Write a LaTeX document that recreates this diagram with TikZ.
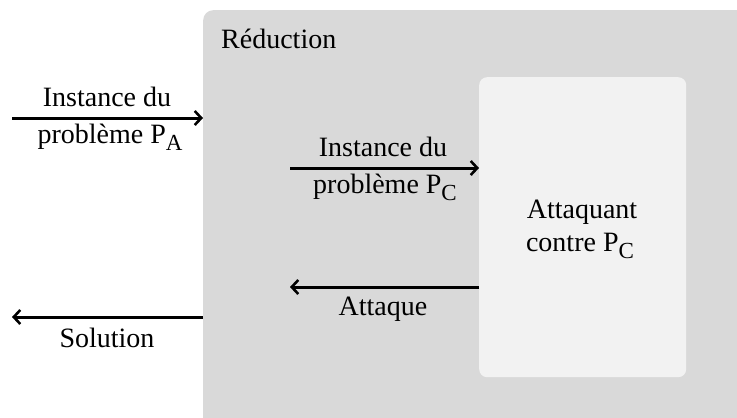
\documentclass[tikz,border=0pt]{standalone}
\usepackage{fontspec}
\setmainfont{Liberation Serif}
\usetikzlibrary{arrows.meta,calc}
\definecolor{outergray}{HTML}{D9D9D9}
\definecolor{innergray}{HTML}{F2F2F2}
\newcommand{\lowsub}[1]{\raisebox{-0.25em}{\fontsize{23}{25}\selectfont #1}}
\tikzset{
  flow/.style={line width=3pt,-{Straight Barb[length=6.5pt,width=14pt,line width=2.6pt]}},
  lbl/.style={font=\fontsize{28}{32}\selectfont,anchor=base,inner sep=0pt},
}
\begin{document}
\begin{tikzpicture}[x=1pt,y=-1pt]
  \useasboundingbox (0,0) rectangle (737,418);
  \begin{scope}
    \clip (0,0) rectangle (737,418);
    % reduction frame (runs past the right and bottom edges)
    \node (red) [fill=outergray,rounded corners=10pt,minimum width=570pt,minimum height=440pt,inner sep=0pt,anchor=north west] at (203,10) {};
  \end{scope}
  \node (redlbl) [lbl,anchor=base west] at (221,48) {Réduction};

  % attacker box
  \node (att) [fill=innergray,rounded corners=8pt,minimum width=207pt,minimum height=300pt,inner sep=0pt,anchor=north west] at (479,77) {};
  \node (att1) [lbl] at (582,218) {Attaquant};
  \node (att2) [lbl] at (580,251) {contre P\lowsub{C}};

  % outer input / output
  \coordinate (inA) at (12,118);
  \coordinate (outS) at (12,317);
  \draw[flow] (inA) -- (inA -| red.west);
  \draw[flow] (outS -| red.west) -- (outS);
  \node (ia1) [lbl] at (107,106) {Instance du};
  \node (ia2) [lbl] at (110,143) {problème P\lowsub{A}};
  \node (sol) [lbl] at (107,347) {Solution};

  % inner exchange with the attacker
  \coordinate (inC) at (290,168);
  \coordinate (outC) at (290,287);
  \draw[flow] (inC) -- (inC -| att.west);
  \draw[flow] (outC -| att.west) -- (outC);
  \node (ic1) [lbl] at (383,156) {Instance du};
  \node (ic2) [lbl] at (385,193) {problème P\lowsub{C}};
  \node (atk) [lbl] at (383,315) {Attaque};
\end{tikzpicture}
\end{document}
